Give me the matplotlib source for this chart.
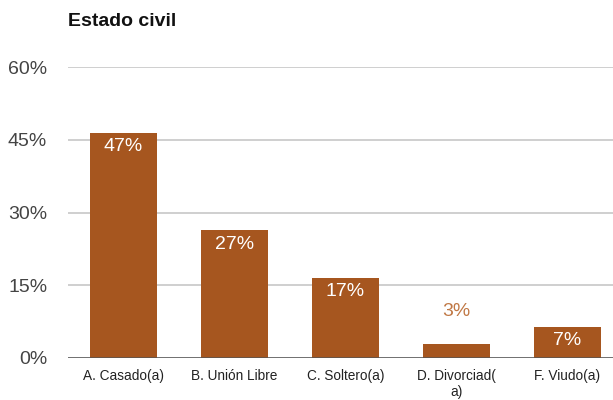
import matplotlib
matplotlib.use("Agg")
import matplotlib.pyplot as plt

categories = ["A. Casado(a)", "B. Unión Libre", "C. Soltero(a)", "D. Divorciad(\na)", "F. Viudo(a)"]
values = [46.4, 26.3, 16.5, 2.9, 6.4]
labels = ["47%", "27%", "17%", "3%", "7%"]
yticks = [0, 15, 30, 45, 60]
ytick_labels = ["0%", "15%", "30%", "45%", "60%"]

bar_color = "#a6561f"
plt.rcParams['font.family'] = ['Liberation Sans', 'DejaVu Sans']

fig = plt.figure(figsize=(6.13, 4.00), dpi=100)
ax = fig.add_axes([68/613, 42/400, 555/613, 291/400])
x = list(range(len(categories)))
bars = ax.bar(x, values, width=0.6, color=bar_color, zorder=3)
ax.set_xlim(-0.5, len(categories) - 0.5)
ax.set_ylim(0, 60)
ax.set_yticks(yticks)
ax.set_yticklabels(ytick_labels, fontsize=14, color="#444444")
ax.set_xticks(x)
ax.set_xticklabels(categories, fontsize=9.8, color="#222222", linespacing=1.15, va="top")
ax.tick_params(axis="both", length=0)
ax.tick_params(axis="y", pad=15)
ax.tick_params(axis="x", pad=8)
for s in ax.spines.values():
    s.set_visible(False)
ax.grid(axis="y", color="#cccccc", linewidth=1.3, zorder=0)
ax.axhline(0, color="#555555", linewidth=1.8, zorder=4)

for xi, v, lab in zip(x, values, labels):
    if v > 5:
        ax.annotate(lab, (xi, v), xytext=(0, -10), textcoords="offset points",
                    ha="center", va="center", fontsize=14, color="white", zorder=5)
    else:
        ax.annotate(lab, (xi, v), xytext=(0, 23), textcoords="offset points",
                    ha="center", va="center", fontsize=14, color="#c07845", zorder=5)

fig.text(68/613, 1 - 22/400, "Estado civil", fontsize=14, fontweight="bold",
         color="#111111", ha="left", va="center")

fig.savefig("out.png", dpi=100)
